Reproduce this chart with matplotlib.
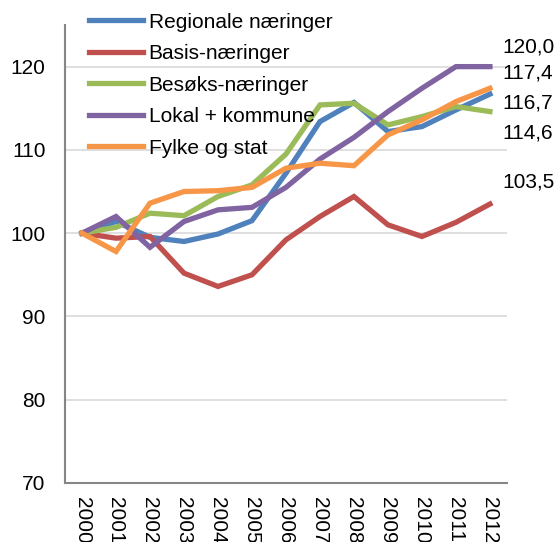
import matplotlib.pyplot as plt

plt.rcParams['font.family'] = ['Liberation Sans', 'DejaVu Sans']

# Data (index, 2000 = 100)
years = ["2000", "2001", "2002", "2003", "2004", "2005", "2006",
         "2007", "2008", "2009", "2010", "2011", "2012"]
regionale = [100, 101.4, 99.5, 99.0, 99.9, 101.5, 107.2, 113.4, 115.7, 112.2, 112.8, 114.8, 116.7]
basis = [100, 99.4, 99.6, 95.2, 93.6, 95.0, 99.2, 102.0, 104.4, 101.0, 99.6, 101.3, 103.5]
besoks = [100, 100.7, 102.4, 102.1, 104.4, 105.8, 109.5, 115.4, 115.6, 113.0, 114.0, 115.2, 114.6]
lokal = [100, 102.0, 98.3, 101.4, 102.8, 103.1, 105.5, 108.9, 111.5, 114.6, 117.4, 120.0, 120.0]
fylke = [100, 97.8, 103.6, 105.0, 105.1, 105.5, 107.8, 108.4, 108.1, 111.8, 113.6, 115.8, 117.4]

labels = ["Regionale næringer", "Basis-næringer", "Besøks-næringer",
          "Lokal + kommune", "Fylke og stat"]
colors = ["#4F81BD", "#C0504D", "#9BBB59", "#8064A2", "#F79646"]
end_labels = ["120,0", "117,4", "116,7", "114,6", "103,5"]
end_label_y = [122.4, 119.2, 115.6, 112.0, 106.1]

fig = plt.figure(figsize=(5.58, 5.42), dpi=100)
ax = fig.add_axes([0.1165, 0.1089, 0.792, 0.845])

x = list(range(len(years)))
for series, label, color in zip([regionale, basis, besoks, lokal, fylke], labels, colors):
    ax.plot(x, series, color=color, linewidth=3.8, label=label, solid_joinstyle='miter')

# Data labels to the right of the plot
for txt, yv in zip(end_labels, end_label_y):
    ax.text(12.36, yv, txt, fontsize=15, va='center', ha='left', clip_on=False)

ax.set_xlim(-0.5, 12.5)
ax.set_ylim(70, 125)
ax.set_yticks([70, 80, 90, 100, 110, 120])
ax.set_xticks(x)
ax.set_xticklabels(years, rotation=270)
ax.tick_params(axis='both', length=0, labelsize=15)
ax.tick_params(axis='y', pad=14)
ax.tick_params(axis='x', pad=10)

ax.grid(axis='y', color='#D9D9D9', linewidth=1.2)
ax.set_axisbelow(True)
for side in ['top', 'right']:
    ax.spines[side].set_visible(False)
for side in ['left', 'bottom']:
    ax.spines[side].set_color('#868686')
    ax.spines[side].set_linewidth(1.5)

fig.legend(loc='upper left', bbox_to_anchor=(0.145, 0.992), frameon=False,
           fontsize=15, handlelength=2.6, handletextpad=0.25, labelspacing=0.6,
           borderaxespad=0)

fig.savefig("out.png", dpi=100)
